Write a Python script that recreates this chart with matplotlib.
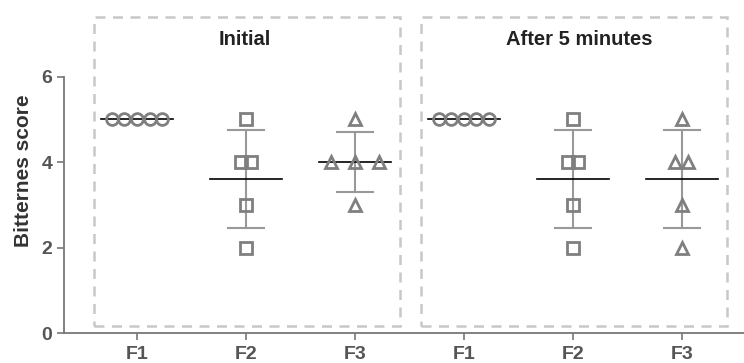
import numpy as np
import matplotlib.pyplot as plt
from matplotlib.patches import Rectangle

plt.rcParams['font.family'] = ['Liberation Sans', 'DejaVu Sans']
plt.rcParams['font.weight'] = 'bold'

# data
panels = ['Initial', 'After 5 minutes']
groups = ['F1', 'F2', 'F3']
scores_initial = {
    'F1': [5, 5, 5, 5, 5],
    'F2': [5, 4, 4, 3, 2],
    'F3': [5, 4, 4, 4, 3],
}
scores_after = {
    'F1': [5, 5, 5, 5, 5],
    'F2': [5, 4, 4, 3, 2],
    'F3': [5, 4, 4, 3, 2],
}

# horizontal jitter for each point (layout only)
jitter_initial = {
    'F1': [-0.23, -0.115, 0, 0.115, 0.23],
    'F2': [0, -0.045, 0.045, 0, 0],
    'F3': [0, -0.22, 0, 0.22, 0],
}
jitter_after = {
    'F1': [-0.23, -0.115, 0, 0.115, 0.23],
    'F2': [0, -0.045, 0.045, 0, 0],
    'F3': [0, -0.06, 0.06, 0, 0],
}
markers = {'F1': 'o', 'F2': 's', 'F3': '^'}

grey = '#7f7f7f'
bar_grey = '#999999'

fig = plt.figure(figsize=(7.44, 3.63), dpi=100)
ax = fig.add_axes([0.086, 0.0826, 0.914, 0.895])

pos = 0
for panel, scores, jit in [(panels[0], scores_initial, jitter_initial),
                           (panels[1], scores_after, jitter_after)]:
    for g in groups:
        vals = np.array(scores[g], dtype=float)
        m = vals.mean()
        sd = vals.std(ddof=1)
        xs = pos + np.array(jit[g])
        if sd > 0:
            ax.plot([pos, pos], [m - sd, m + sd], color=bar_grey, lw=1.5, zorder=2)
            for yv in (m - sd, m + sd):
                ax.plot([pos - 0.165, pos + 0.165], [yv, yv], color=bar_grey, lw=1.5, zorder=2)
        ax.plot([pos - 0.33, pos + 0.33], [m, m], color='black', lw=1.2, zorder=2)
        ms = {'o': 8.5, 's': 8.5, '^': 9}[markers[g]]
        ax.plot(xs, vals, linestyle='none', marker=markers[g], ms=ms,
                mfc='none', mec=grey, mew=2, zorder=3)
        pos += 1

# dashed panel boxes and titles
for i, panel in enumerate(panels):
    x0 = -0.39 + 3 * i
    ax.add_patch(Rectangle((x0, 0.16), 2.8, 7.24, fill=False, ls=(0, (4, 3)),
                           ec='#c8c8c8', lw=1.8, clip_on=False, zorder=1))
    ax.text(x0 + 1.4 - 0.02 + 0.07 * i, 6.86, panel, ha='center', va='center',
            fontsize=14.5, fontweight='bold', color='#222222')

ax.set_xlim(-0.67, 5.57)
ax.set_ylim(0, 7.6)
ax.set_yticks([0, 2, 4, 6])
ax.set_xticks(range(6))
ax.set_xticklabels(groups * 2)
ax.spines['left'].set_bounds(0, 6)
for s in ['top', 'right']:
    ax.spines[s].set_visible(False)
for s in ['left', 'bottom']:
    ax.spines[s].set_color('#777777')
    ax.spines[s].set_linewidth(1.3)
ax.tick_params(colors='#777777', width=1.2, length=5, labelsize=14,
               labelcolor='#555555')
ax.tick_params(axis='x', pad=4)
for lab in ax.get_xticklabels() + ax.get_yticklabels():
    lab.set_fontweight('bold')
ax.set_ylabel('Bitternes score', fontsize=15, fontweight='bold', color='#333333', labelpad=6)

fig.savefig('out.png', dpi=100)
